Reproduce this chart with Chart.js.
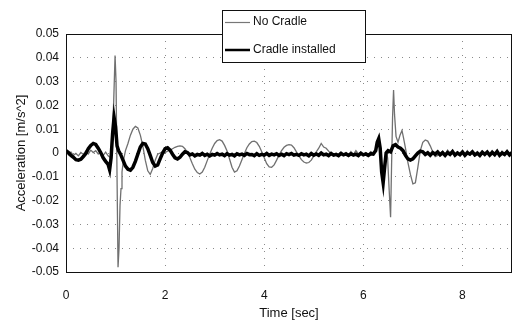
<!DOCTYPE html>
<html>
<head>
<meta charset="utf-8">
<script src="https://cdn.jsdelivr.net/npm/chart.js@4/dist/chart.umd.min.js"></script>
<style>
  body { margin: 0; background: #fff; }
  #wrap { width: 514px; height: 324px; }
</style>
</head>
<body>
<div id="wrap"><canvas id="myChart" width="514" height="324"></canvas></div>
<script>
// time [sec] and acceleration [m/s^2]
const tNoCradle = [
  0, 0.05, 0.1, 0.15, 0.2, 0.25, 0.3, 0.35, 0.4, 0.45,
  0.5, 0.55, 0.6, 0.65, 0.7, 0.75, 0.8, 0.85, 0.9,
  0.93, 0.96, 0.99, 1.01, 1.03, 1.05, 1.07, 1.09, 1.11, 1.13, 1.16,
  1.2, 1.25, 1.3, 1.35, 1.4, 1.45, 1.5, 1.55, 1.6, 1.65, 1.7, 1.75, 1.8, 1.85,
  1.9, 1.95, 2, 2.05, 2.1, 2.15, 2.2, 2.25, 2.3, 2.35,
  2.4, 2.45, 2.5, 2.55, 2.6, 2.65, 2.7, 2.75, 2.8, 2.85,
  2.9, 2.95, 3, 3.05, 3.1, 3.15, 3.2, 3.25, 3.3, 3.35,
  3.4, 3.45, 3.5, 3.55, 3.6, 3.65, 3.7, 3.75, 3.8, 3.85,
  3.9, 3.95, 4, 4.05, 4.1, 4.15, 4.2, 4.25, 4.3, 4.35,
  4.4, 4.45, 4.5, 4.55, 4.6, 4.65, 4.7, 4.75, 4.8, 4.85,
  4.9, 4.95, 5, 5.05, 5.1, 5.15, 5.2, 5.25, 5.3, 5.35,
  5.4, 5.45, 5.5, 5.55, 5.6, 5.65, 5.7, 5.75, 5.8, 5.85,
  5.9, 5.95, 6, 6.05, 6.1, 6.15, 6.2, 6.25, 6.28, 6.31,
  6.34, 6.37, 6.4, 6.43, 6.46, 6.49, 6.52, 6.55, 6.57, 6.59,
  6.61, 6.63, 6.66, 6.7, 6.74, 6.78, 6.81, 6.85, 6.9, 6.95,
  7, 7.05, 7.1, 7.15, 7.2, 7.25, 7.3, 7.35, 7.4, 7.45,
  7.5, 7.55, 7.6, 7.65, 7.7, 7.75, 7.8, 7.85, 7.9, 7.95,
  8, 8.05, 8.1, 8.15, 8.2, 8.25, 8.3, 8.35, 8.4, 8.45,
  8.5, 8.55, 8.6, 8.65, 8.7, 8.75, 8.8, 8.85, 8.9, 8.95, 9
];
const aNoCradle = [
  0.0006, -0.0008, 0.0004, -0.0010, -0.0002, -0.0012, 0.0002, -0.0006, 0.0008, -0.0004,
  0.0012, 0.0002, 0.0010, -0.0004, 0.0006, -0.0010, 0.0004, -0.0012, -0.0020,
  0.005, 0.020, 0.041, 0.030, -0.010, -0.048, -0.040, -0.022, -0.015, -0.008, -0.003,
  0.001, 0.004, 0.0075, 0.010, 0.0112, 0.0105, 0.0075, 0.003, -0.003, -0.0075, -0.009, -0.0065, -0.003, -0.0005,
  0, 0.0005, 0.0002, 0.0008, 0.0012, 0.0018, 0.0024, 0.0028, 0.003, 0.0028,
  0.0018, 0.0002, -0.002, -0.0045, -0.0068, -0.0082, -0.0088, -0.008, -0.006, -0.0032,
  -0.0005, 0.002, 0.004, 0.0052, 0.0056, 0.005, 0.0032, 0.0008, -0.0025, -0.006,
  -0.008, -0.0075, -0.0055, -0.0028, -0.0002, 0.0022, 0.0038, 0.0048, 0.005, 0.0044,
  0.0028, 0.0005, -0.002, -0.0045, -0.0058, -0.006, -0.005, -0.003, -0.0008, 0.001,
  0.0024, 0.0032, 0.0035, 0.0033, 0.0022, 0.0005, -0.0012, -0.0028, -0.0038, -0.0042,
  -0.004, -0.003, -0.0012, 0.0005, 0.002, 0.004, 0.0025, 0.002, 0.0008, -0.0005,
  -0.0012, -0.001, -0.0004, 0.0004, -0.0008, 0.0002, -0.001, 0.0006, -0.0006, 0.001,
  -0.0004, 0.0004, -0.001, 0.0002, -0.0006, 0.0006, 0, 0.0015, 0.004, 0.005,
  0.001, -0.007, -0.011, -0.004, 0, -0.002, -0.015, -0.027, -0.005, 0.015,
  0.0265, 0.016, 0.007, 0.0045, 0.0075, 0.0095, 0.0065, 0.002, -0.004, -0.009,
  -0.013, -0.0125, -0.006, 0.001, 0.0045, 0.0055, 0.005, 0.003, 0.0005, -0.0015,
  -0.001, 0, 0.0008, -0.0006, 0.0012, 0, 0.001, -0.0008, 0.0004, -0.001,
  0.0006, -0.0004, 0.001, -0.0008, 0.0002, -0.0012, 0.0006, -0.0004, 0.0008, -0.001,
  0.0004, -0.0006, 0.001, -0.0002, 0.0006, -0.001, 0.0008, -0.0004, 0.0012, -0.0006, 0.0004
];

const tCradle = [
  0, 0.05, 0.1, 0.15, 0.2, 0.25, 0.3, 0.35, 0.4, 0.45,
  0.5, 0.55, 0.6, 0.65, 0.7, 0.75, 0.8, 0.85, 0.88, 0.91,
  0.94, 0.97, 1, 1.03, 1.06, 1.1, 1.15, 1.2, 1.25, 1.3,
  1.35, 1.4, 1.45, 1.5, 1.55, 1.6, 1.65, 1.7, 1.75, 1.8,
  1.85, 1.9, 1.95, 2, 2.05, 2.1, 2.15, 2.2, 2.25, 2.3,
  2.35, 2.4, 2.45, 2.5, 2.55, 2.6, 2.65, 2.7, 2.75, 2.8,
  2.85, 2.9, 2.95, 3, 3.05, 3.1, 3.15, 3.2, 3.25, 3.3,
  3.35, 3.4, 3.45, 3.5, 3.55, 3.6, 3.65, 3.7, 3.75, 3.8,
  3.85, 3.9, 3.95, 4, 4.05, 4.1, 4.15, 4.2, 4.25, 4.3,
  4.35, 4.4, 4.45, 4.5, 4.55, 4.6, 4.65, 4.7, 4.75, 4.8,
  4.85, 4.9, 4.95, 5, 5.05, 5.1, 5.15, 5.2, 5.25, 5.3,
  5.35, 5.4, 5.45, 5.5, 5.55, 5.6, 5.65, 5.7, 5.75, 5.8,
  5.85, 5.9, 5.95, 6, 6.05, 6.1, 6.15, 6.2, 6.25, 6.28,
  6.31, 6.34, 6.37, 6.4, 6.43, 6.46, 6.5, 6.55, 6.6, 6.65,
  6.7, 6.75, 6.8, 6.85, 6.9, 6.95, 7, 7.05, 7.1, 7.15,
  7.2, 7.25, 7.3, 7.35, 7.4, 7.45, 7.5, 7.55, 7.6, 7.65,
  7.7, 7.75, 7.8, 7.85, 7.9, 7.95, 8, 8.05, 8.1, 8.15,
  8.2, 8.25, 8.3, 8.35, 8.4, 8.45, 8.5, 8.55, 8.6, 8.65,
  8.7, 8.75, 8.8, 8.85, 8.9, 8.95, 9
];
const aCradle = [
  0.001, 0.0002, -0.001, -0.0018, -0.0028, -0.003, -0.0026, -0.0015, -0.0002, 0.0018,
  0.0032, 0.004, 0.0036, 0.002, 0.0002, -0.002, -0.0035, -0.0048, -0.007, -0.002,
  0.008, 0.015, 0.011, 0.003, 0.001, -0.0005, -0.003, -0.0055, -0.0068, -0.0072,
  -0.006, -0.0035, -0.0005, 0.0025, 0.004, 0.0038, 0.0018, -0.001, -0.004, -0.0055,
  -0.005, -0.0025, 0, 0.0018, 0.0022, 0.0012, -0.0005, -0.002, -0.0025, -0.0018,
  -0.0005, 0.0005, 0.0002, -0.0008, -0.0004, -0.0012, -0.0006, -0.0009, -0.0002, -0.001,
  -0.0005, -0.0012, -0.0006, -0.0009, -0.0002, -0.0008, -0.0005, -0.0011, -0.0003, -0.0009,
  -0.0006, -0.0012, -0.0003, -0.0008, -0.0005, -0.001, -0.0002, -0.0007, -0.0006, -0.0011,
  -0.0003, -0.001, -0.0006, -0.0009, -0.0002, -0.001, -0.0005, -0.0008, -0.0003, -0.001,
  -0.0005, -0.0011, -0.0003, -0.0007, -0.0002, -0.0009, -0.0006, -0.001, -0.0003, -0.0008,
  -0.0005, -0.0012, -0.0002, -0.0009, -0.0004, -0.001, 0, -0.0008, -0.0005, -0.0011,
  -0.0002, -0.0009, -0.0006, -0.0011, -0.0002, -0.0008, -0.0004, -0.001, -0.0003, -0.0009,
  -0.0005, -0.0011, -0.0001, -0.0008, -0.0004, -0.001, -0.0003, -0.0005, 0.001, 0.0045,
  0.006, 0.002, -0.008, -0.0125, -0.006, 0, 0.001, 0.0005, 0.003, 0.0035,
  0.0025, 0.002, 0.001, -0.001, -0.0025, -0.003, -0.0025, -0.0012, 0, 0.0008,
  0.0005, -0.0006, 0.0001, -0.0009, 0.0002, -0.0005, 0.0004, -0.0008, 0.0001, -0.001,
  0.0002, -0.0006, 0.0006, -0.0009, 0, -0.0007, 0.0004, -0.001, 0.0001, -0.0005,
  0.0005, -0.0008, -0.0001, -0.001, 0.0003, -0.0006, 0.0004, -0.0009, 0.0002, -0.0007,
  0.0006, -0.001, 0, -0.0006, 0.0005, -0.0008, 0.0002
];

const seriesNames = ["No Cradle", "Cradle installed"];
const xTicks = [0, 2, 4, 6, 8];

const FONT = "'Liberation Sans', Arial, sans-serif";

// frame round the plot area + legend box sitting over the top edge
const framePlugin = {
  id: "frame",
  afterDraw(chart) {
    const ctx = chart.ctx;
    const a = chart.chartArea;
    ctx.save();
    ctx.strokeStyle = "#111";
    ctx.lineWidth = 1;
    ctx.strokeRect(Math.round(a.left) + 0.5, Math.round(a.top) + 0.5,
      Math.round(a.right - a.left) - 1, Math.round(a.bottom - a.top));

    // legend
    ctx.fillStyle = "#fff";
    ctx.fillRect(222, 10, 143, 52);
    ctx.strokeStyle = "#111";
    ctx.strokeRect(222.5, 10.5, 143, 52);
    ctx.beginPath();
    ctx.strokeStyle = "#777";
    ctx.lineWidth = 1.2;
    ctx.moveTo(225, 22.5);
    ctx.lineTo(250, 22.5);
    ctx.stroke();
    ctx.beginPath();
    ctx.strokeStyle = "#000";
    ctx.lineWidth = 2.5;
    ctx.moveTo(225, 50);
    ctx.lineTo(250, 50);
    ctx.stroke();
    ctx.fillStyle = "#111";
    ctx.font = "12px " + FONT;
    ctx.textBaseline = "middle";
    ctx.fillText(seriesNames[0], 253, 22);
    ctx.fillText(seriesNames[1], 253, 50);
    ctx.restore();
  }
};

var ctx = document.getElementById("myChart");
var myChart = new Chart(ctx, {
  type: "line",
  data: {
    datasets: [
      {
        label: seriesNames[0],
        data: tNoCradle.map((t, i) => ({ x: t, y: aNoCradle[i] })),
        borderColor: "#707070",
        borderWidth: 1.3,
        pointRadius: 0,
        tension: 0,
        order: 1,
      },
      {
        label: seriesNames[1],
        data: tCradle.map((t, i) => ({ x: t, y: aCradle[i] })),
        borderColor: "#000",
        borderWidth: 3.5,
        pointRadius: 0,
        tension: 0,
        order: 0,
      },
    ],
  },
  options: {
    responsive: false,
    animation: false,
    layout: { padding: { top: 34, right: 2, left: 0, bottom: 0 } },
    plugins: { legend: { display: false }, tooltip: { enabled: false } },
    scales: {
      x: {
        type: "linear",
        min: 0,
        max: 9,
        afterFit: (s) => { s.height = 52; },
        afterBuildTicks: (s) => { s.ticks = xTicks.map((v) => ({ value: v })); },
        ticks: {
          includeBounds: false,
          padding: 16,
          color: "#111",
          font: { family: FONT, size: 12 },
          maxRotation: 0,
        },
        grid: { color: "#8a8a8a", drawTicks: false },
        border: { display: false, dash: [1, 6] },
        title: {
          display: true,
          text: "Time [sec]",
          color: "#111",
          font: { family: FONT, size: 13 },
          padding: { top: 0, bottom: 3 },
        },
      },
      y: {
        min: -0.05,
        max: 0.05,
        afterFit: (s) => { s.width = 66; },
        ticks: {
          stepSize: 0.01,
          padding: 7,
          color: "#111",
          font: { family: FONT, size: 12 },
          callback: (v) => (Math.abs(v) < 1e-9 ? "0" : v.toFixed(2)),
        },
        grid: { color: "#8a8a8a", drawTicks: false },
        border: { display: false, dash: [1, 6] },
        title: {
          display: true,
          text: "Acceleration [m/s^2]",
          color: "#111",
          font: { family: FONT, size: 13 },
          padding: { top: 14, bottom: 0 },
        },
      },
    },
  },
  plugins: [framePlugin],
});
</script>
</body>
</html>
